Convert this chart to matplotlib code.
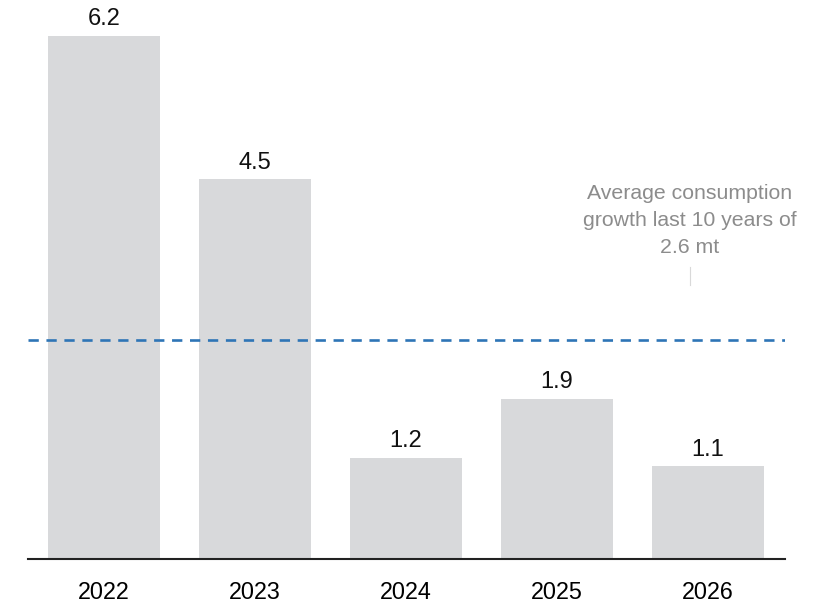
import matplotlib
matplotlib.use("Agg")
import matplotlib.pyplot as plt

years = ["2022", "2023", "2024", "2025", "2026"]
values = [6.2, 4.5, 1.2, 1.9, 1.1]
avg_growth = 2.6
note = "Average consumption\ngrowth last 10 years of\n2.6 mt"

plt.rcParams['font.family'] = ['Liberation Sans', 'DejaVu Sans']

fig = plt.figure(figsize=(8.28, 6.03), dpi=100)
ax = fig.add_axes([28/828, 44/603, 757/828, 559/603])

x = list(range(len(years)))
bars = ax.bar(x, values, width=0.742, color='#d8d9db', zorder=1)
for xi, v in zip(x, values):
    ax.annotate(f"{v}", (xi, v), xytext=(0, 4), textcoords='offset points',
                ha='center', va='bottom', fontsize=17, color='#111111')

ax.axhline(avg_growth, color='#2e75b6', linestyle=(0, (3.9, 2.9)), linewidth=1.9, zorder=2)

ax.text(3.88, 4.44, note, ha='center', va='top', fontsize=15.3, color='#8c8c8c',
        linespacing=1.51)
ax.plot([3.88, 3.88], [3.25, 3.46], color='#d9d9d9', linewidth=0.8)

ax.set_xlim(-0.503, 4.51)
ax.set_ylim(0, 559/84.4)
ax.set_xticks(x)
ax.set_xticklabels(years, fontsize=16.8)
ax.tick_params(axis='x', length=0, pad=16)
ax.set_yticks([])
for s in ['top', 'right', 'left']:
    ax.spines[s].set_visible(False)
ax.spines['bottom'].set_color('#222222')
ax.spines['bottom'].set_linewidth(1.5)

fig.savefig("out.png", dpi=100)
